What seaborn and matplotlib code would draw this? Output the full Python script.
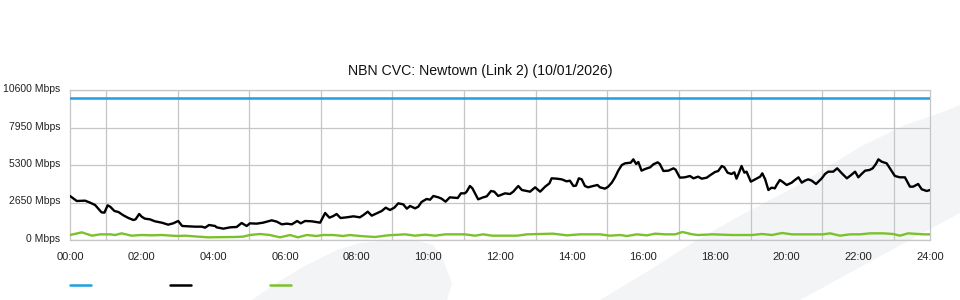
import matplotlib
matplotlib.use("Agg")
import matplotlib.pyplot as plt
import matplotlib.transforms as mtransforms
from matplotlib.patches import Polygon
from matplotlib.lines import Line2D
import seaborn as sns
import pandas as pd

# ---------------- data ----------------
title = "NBN CVC: Newtown (Link 2) (10/01/2026)"
y_ticks = [0, 2650, 5300, 7950, 10600]
y_tick_labels = ["0 Mbps", "2650 Mbps", "5300 Mbps", "7950 Mbps", "10600 Mbps"]
x_ticks = list(range(0, 25, 2))
x_tick_labels = ["%02d:00" % h for h in x_ticks]

capacity_hours = [0.0, 24.0]
capacity_mbps = [10000, 10000]

traffic_hours = [
    0.00, 0.19, 0.42, 0.56, 0.70, 0.88, 0.96, 1.05, 1.12, 1.24, 1.35, 1.49, 1.63, 1.77,
    1.83, 1.93, 2.00, 2.09, 2.23, 2.37, 2.56, 2.74, 2.88, 3.02, 3.13, 3.30, 3.49, 3.68,
    3.77, 3.88, 4.05, 4.09, 4.28, 4.47, 4.65, 4.79, 4.93, 5.02, 5.21, 5.39, 5.63, 5.77,
    5.91, 6.05, 6.19, 6.34, 6.44, 6.56, 6.75, 6.98, 7.12, 7.24, 7.35, 7.44, 7.55, 7.72,
    7.91, 8.09, 8.19, 8.31, 8.42, 8.56, 8.70, 8.81, 8.93, 9.05, 9.16, 9.30, 9.40, 9.49,
    9.63, 9.72, 9.81, 9.95, 10.05, 10.14, 10.28, 10.37, 10.48, 10.60, 10.82, 10.91, 11.02,
    11.07, 11.16, 11.23, 11.39, 11.53, 11.63, 11.75, 11.84, 11.95, 12.14, 12.28, 12.37,
    12.51, 12.61, 12.75, 12.84, 12.98, 13.12, 13.26, 13.38, 13.44, 13.58, 13.72, 13.86,
    13.95, 14.05, 14.12, 14.20, 14.28, 14.37, 14.46, 14.60, 14.72, 14.79, 14.93, 15.02,
    15.12, 15.21, 15.30, 15.40, 15.49, 15.65, 15.72, 15.80, 15.86, 15.95, 16.05, 16.19,
    16.28, 16.40, 16.46, 16.56, 16.70, 16.84, 16.90, 17.02, 17.16, 17.30, 17.40, 17.53,
    17.63, 17.77, 17.86, 18.00, 18.09, 18.19, 18.26, 18.35, 18.46, 18.54, 18.60, 18.67,
    18.74, 18.82, 18.88, 19.00, 19.12, 19.26, 19.32, 19.40, 19.49, 19.58, 19.67, 19.72,
    19.81, 19.88, 20.00, 20.14, 20.23, 20.33, 20.42, 20.51, 20.60, 20.70, 20.82, 20.98,
    21.07, 21.16, 21.30, 21.41, 21.54, 21.68, 21.80, 21.91, 22.00, 22.09, 22.19, 22.31,
    22.40, 22.49, 22.56, 22.65, 22.79, 22.88, 23.02, 23.16, 23.30, 23.44, 23.53, 23.67,
    23.77, 23.91, 24.00,
]
traffic_mbps = [
    3110, 2756, 2780, 2640, 2473, 1955, 1932, 2450, 2356, 2050, 1979, 1743, 1555, 1413,
    1460, 1837, 1649, 1508, 1460, 1320, 1225, 1084, 1178, 1343, 990, 966, 942, 942,
    872, 1060, 990, 895, 801, 895, 919, 1201, 990, 1178, 1155, 1225, 1390, 1296,
    1107, 1155, 1107, 1343, 1178, 1343, 1320, 1225, 1908, 1578, 1696, 1837, 1555, 1602,
    1673, 1602, 1767, 2002, 1720, 1884, 2050, 2285, 2120, 2285, 2591, 2520, 2214, 2403,
    2238, 2356, 2685, 2897, 2850, 3110, 3015, 2920, 2709, 3015, 2968, 3298, 3298,
    3416, 3816, 3652, 2874, 3015, 3086, 3463, 3416, 3110, 3298, 3250, 3416,
    3816, 3533, 3463, 3416, 3722, 3416, 3769, 4005, 4358, 4335, 4288, 4146,
    4190, 3816, 3840, 4358, 4288, 3816, 3722, 3816, 3887, 3722, 3628, 3770,
    4052, 4429, 4900, 5300, 5418, 5465, 5701, 5371, 5512, 4900, 5017, 5135,
    5347, 5489, 5371, 4876, 4900, 5064, 4970, 4405, 4430, 4523, 4358, 4476,
    4334, 4405, 4570, 4805, 4876, 5229, 5135, 4758, 4664, 4782, 4334, 4758,
    5229, 4758, 4829, 4122, 4288, 4476, 4711, 4288, 3533, 3698, 3651, 3887,
    4240, 4122, 3887, 4052, 4240, 4429, 4052, 4193, 4288, 4193, 3957, 4358,
    4664, 4829, 4829, 5064, 4711, 4358, 4593, 4829, 4429, 4664, 4900, 4947,
    5064, 5371, 5701, 5536, 5418, 5064, 4523, 4429, 4429, 3769, 3769, 3957,
    3581, 3463, 3533,
]

other_hours = [
    0.00, 0.33, 0.61, 0.84, 1.12, 1.26, 1.44, 1.72, 2.00, 2.28, 2.56, 2.84, 3.02, 3.21,
    3.58, 3.85, 4.19, 4.60, 4.83, 5.02, 5.30, 5.58, 5.86, 6.14, 6.36, 6.61, 6.88, 7.06,
    7.34, 7.62, 7.81, 8.09, 8.51, 8.87, 9.35, 9.63, 9.91, 10.19, 10.47, 11.02, 11.30,
    11.53, 11.78, 12.06, 12.48, 12.75, 13.48, 13.87, 14.23, 14.79, 15.07, 15.35, 15.54,
    15.82, 16.10, 16.33, 16.61, 16.89, 17.09, 17.37, 17.53, 17.92, 18.47, 19.03, 19.31,
    19.59, 19.87, 20.15, 20.51, 21.01, 21.21, 21.49, 21.77, 22.05, 22.33, 22.69, 22.97,
    23.16, 23.39, 23.81, 24.00,
]
other_mbps = [
    353, 541, 306, 400, 400, 353, 470, 306, 353, 330, 353, 306, 283, 306,
    236, 189, 200, 212, 236, 353, 424, 353, 189, 353, 189, 353, 283, 353,
    353, 283, 353, 283, 212, 330, 400, 306, 377, 306, 400, 400, 306,
    400, 306, 306, 306, 400, 448, 330, 400, 400, 306, 353, 283,
    400, 330, 448, 400, 400, 565, 400, 353, 400, 353, 353, 424,
    353, 495, 400, 400, 400, 471, 306, 400, 400, 471, 471, 424,
    306, 471, 400, 400,
]

series_colors = ["#1f9fe0", "#000000", "#7cc12c"]

# ---------------- figure ----------------
sns.set_style("white")
plt.rcParams["font.family"] = ["Liberation Sans", "DejaVu Sans"]

W, H = 960, 300
fig = plt.figure(figsize=(9.6, 3.0), dpi=100)
fig.patch.set_facecolor("white")

# background watermark swoosh (figure pixel coords)
def fpts(pts):
    return [(x / W, 1 - y / H) for x, y in pts]

band = [(600, 300), (650, 270), (697, 240), (745, 213), (795, 187), (860, 147),
        (905, 125), (940, 113), (960, 105), (960, 213), (910, 240), (800, 300)]
blob = [(252, 300), (275, 284), (303, 267), (337, 250), (360, 243), (393, 240),
        (418, 241), (433, 245), (442, 257), (452, 283), (447, 300)]
for shape in (band, blob):
    fig.add_artist(Polygon(fpts(shape), closed=True, transform=fig.transFigure,
                           facecolor="#f3f4f6", edgecolor="none", zorder=0))

ax = fig.add_axes([70 / W, 60 / H, 860 / W, 150 / H])
ax.set_facecolor("none")
ax.set_zorder(1)

df_cap = pd.DataFrame({"hour": capacity_hours, "mbps": capacity_mbps})
df_tr = pd.DataFrame({"hour": traffic_hours, "mbps": traffic_mbps})
df_ot = pd.DataFrame({"hour": other_hours, "mbps": other_mbps})

sns.lineplot(data=df_cap, x="hour", y="mbps", ax=ax, color=series_colors[0],
             linewidth=1.8, zorder=3)
sns.lineplot(data=df_tr, x="hour", y="mbps", ax=ax, color=series_colors[1],
             linewidth=1.7, zorder=4)
sns.lineplot(data=df_ot, x="hour", y="mbps", ax=ax, color=series_colors[2],
             linewidth=1.7, zorder=3)

ax.set_xlim(0, 24)
ax.set_ylim(0, 10600)
ax.set_xlabel("")
ax.set_ylabel("")

ax.set_xticks(x_ticks)
ax.set_xticklabels(x_tick_labels)
ax.set_xticks(range(0, 25), minor=True)
ax.set_yticks(y_ticks)
ax.set_yticklabels(y_tick_labels)

grid_c = "#c6c6c6"
ax.grid(False)
ax.grid(True, which="minor", axis="x", color=grid_c, linewidth=0.9, zorder=1)
ax.grid(True, which="major", axis="y", color=grid_c, linewidth=0.9, zorder=1)
for s in ax.spines.values():
    s.set_visible(True)
    s.set_color(grid_c)
    s.set_linewidth(0.9)

ax.tick_params(axis="x", which="major", direction="out", length=4, width=0.9,
               color=grid_c, labelsize=8, labelcolor="#222222", pad=4.5)
ax.tick_params(axis="x", which="minor", length=0)
ax.tick_params(axis="y", which="major", length=0, labelsize=7.5,
               labelcolor="#222222", pad=7)

# nudge y tick labels slightly upward like the reference
shift = mtransforms.ScaledTranslation(0, 2 / 100, fig.dpi_scale_trans)
for lbl in ax.get_yticklabels():
    lbl.set_transform(lbl.get_transform() + shift)

fig.text(0.5, 1 - 71 / H, title, ha="center", va="center",
         fontsize=10.2, color="#111111")

# legend keys (no labels in the reference)
for i, c in enumerate(series_colors):
    x0 = 70 + 100 * i
    fig.add_artist(Line2D([x0 / W, (x0 + 21) / W], [1 - 285 / H, 1 - 285 / H],
                          transform=fig.transFigure, color=c, linewidth=1.8))

fig.savefig("out.png", dpi=100)
